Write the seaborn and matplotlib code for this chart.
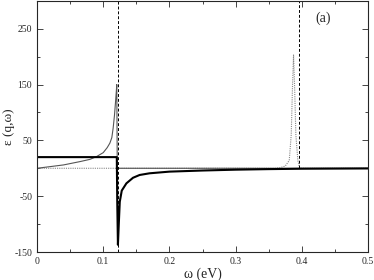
import seaborn as sns
import matplotlib.pyplot as plt
import matplotlib.ticker as mticker
import pandas as pd

# thin solid curve (rises to the pole, then flat at zero)
thin_w = [0, 0.02, 0.04, 0.065, 0.08, 0.09, 0.1, 0.106, 0.11, 0.113, 0.115, 0.117, 0.119, 0.1205,
          0.1212, 0.1228, 0.5]
thin_e = [0, 3, 6, 12, 16, 21, 28, 37, 45, 55, 72, 95, 125, 150,
          0, 0, 0]

# thick solid curve (step, then negative branch)
thick_w = [0, 0.1205, 0.1212, 0.1222, 0.1235, 0.125, 0.128, 0.135, 0.145, 0.155, 0.17, 0.2,
           0.25, 0.3, 0.35, 0.4, 0.5]
thick_e = [20, 20, -60, -137, -100, -60, -40, -27, -17, -12, -9, -6,
           -4, -2.5, -1.5, -0.8, -0.3]

# dotted curve (narrow peak near 0.39 eV)
dot_w = [0, 0.36, 0.367, 0.375, 0.381, 0.384, 0.386, 0.3875, 0.389, 0.391, 0.394, 0.396, 0.397, 0.5]
dot_e = [0, 0, 1, 4, 14, 60, 150, 203, 150, 60, 14, 4, 0, 0]

# dashed vertical markers: (position, ymin, ymax)
dash_w = [0.1228, 0.396]
dash_lo = [-150, 0]
dash_hi = [300, 300]

sns.set_style("ticks")
plt.rcParams['font.family'] = ['Liberation Serif', 'DejaVu Serif']
plt.rcParams['axes.unicode_minus'] = False

fig = plt.figure(figsize=(3.74, 2.80), dpi=100)
ax = fig.add_axes([0.099, 0.1, 0.885, 0.897])

df_thin = pd.DataFrame({'w': thin_w, 'e': thin_e})
df_thick = pd.DataFrame({'w': thick_w, 'e': thick_e})
df_dot = pd.DataFrame({'w': dot_w, 'e': dot_e})

sns.lineplot(data=df_dot, x='w', y='e', ax=ax, estimator=None, sort=False,
             color='#888888', lw=0.8, linestyle=(0, (1, 1)))
sns.lineplot(data=df_thin, x='w', y='e', ax=ax, estimator=None, sort=False,
             color='#555555', lw=0.8)
sns.lineplot(data=df_thick, x='w', y='e', ax=ax, estimator=None, sort=False,
             color='black', lw=1.5)
for w, lo, hi in zip(dash_w, dash_lo, dash_hi):
    ax.vlines(w, lo, hi, colors='black', lw=0.7, linestyles=(0, (3, 2)))

ax.set_xlim(0, 0.5)
ax.set_ylim(-150, 300)
ax.xaxis.set_major_locator(mticker.MultipleLocator(0.1))
ax.xaxis.set_minor_locator(mticker.MultipleLocator(0.05))
ax.set_yticks([-150, -50, 50, 150, 250])
ax.yaxis.set_minor_locator(mticker.FixedLocator([-100, 0, 100, 200]))
ax.xaxis.set_major_formatter(mticker.FuncFormatter(lambda v, p: '0' if v == 0 else f'{v:.1f}'))

ax.tick_params(which='both', direction='in', top=True, right=True, labelsize=7, width=0.6)
ax.tick_params(which='major', length=4)
ax.tick_params(which='minor', length=2.5)
for s in ax.spines.values():
    s.set_linewidth(0.8)

ax.set_xlabel('ω (eV)', fontsize=10, labelpad=1)
ax.set_ylabel('ε (q,ω)', fontsize=9.5)
ax.yaxis.set_label_coords(-0.068, 0.5)
ax.text(0.432, 268, '(a)', fontsize=10, ha='center', va='center')

fig.savefig('out.png', dpi=100)
